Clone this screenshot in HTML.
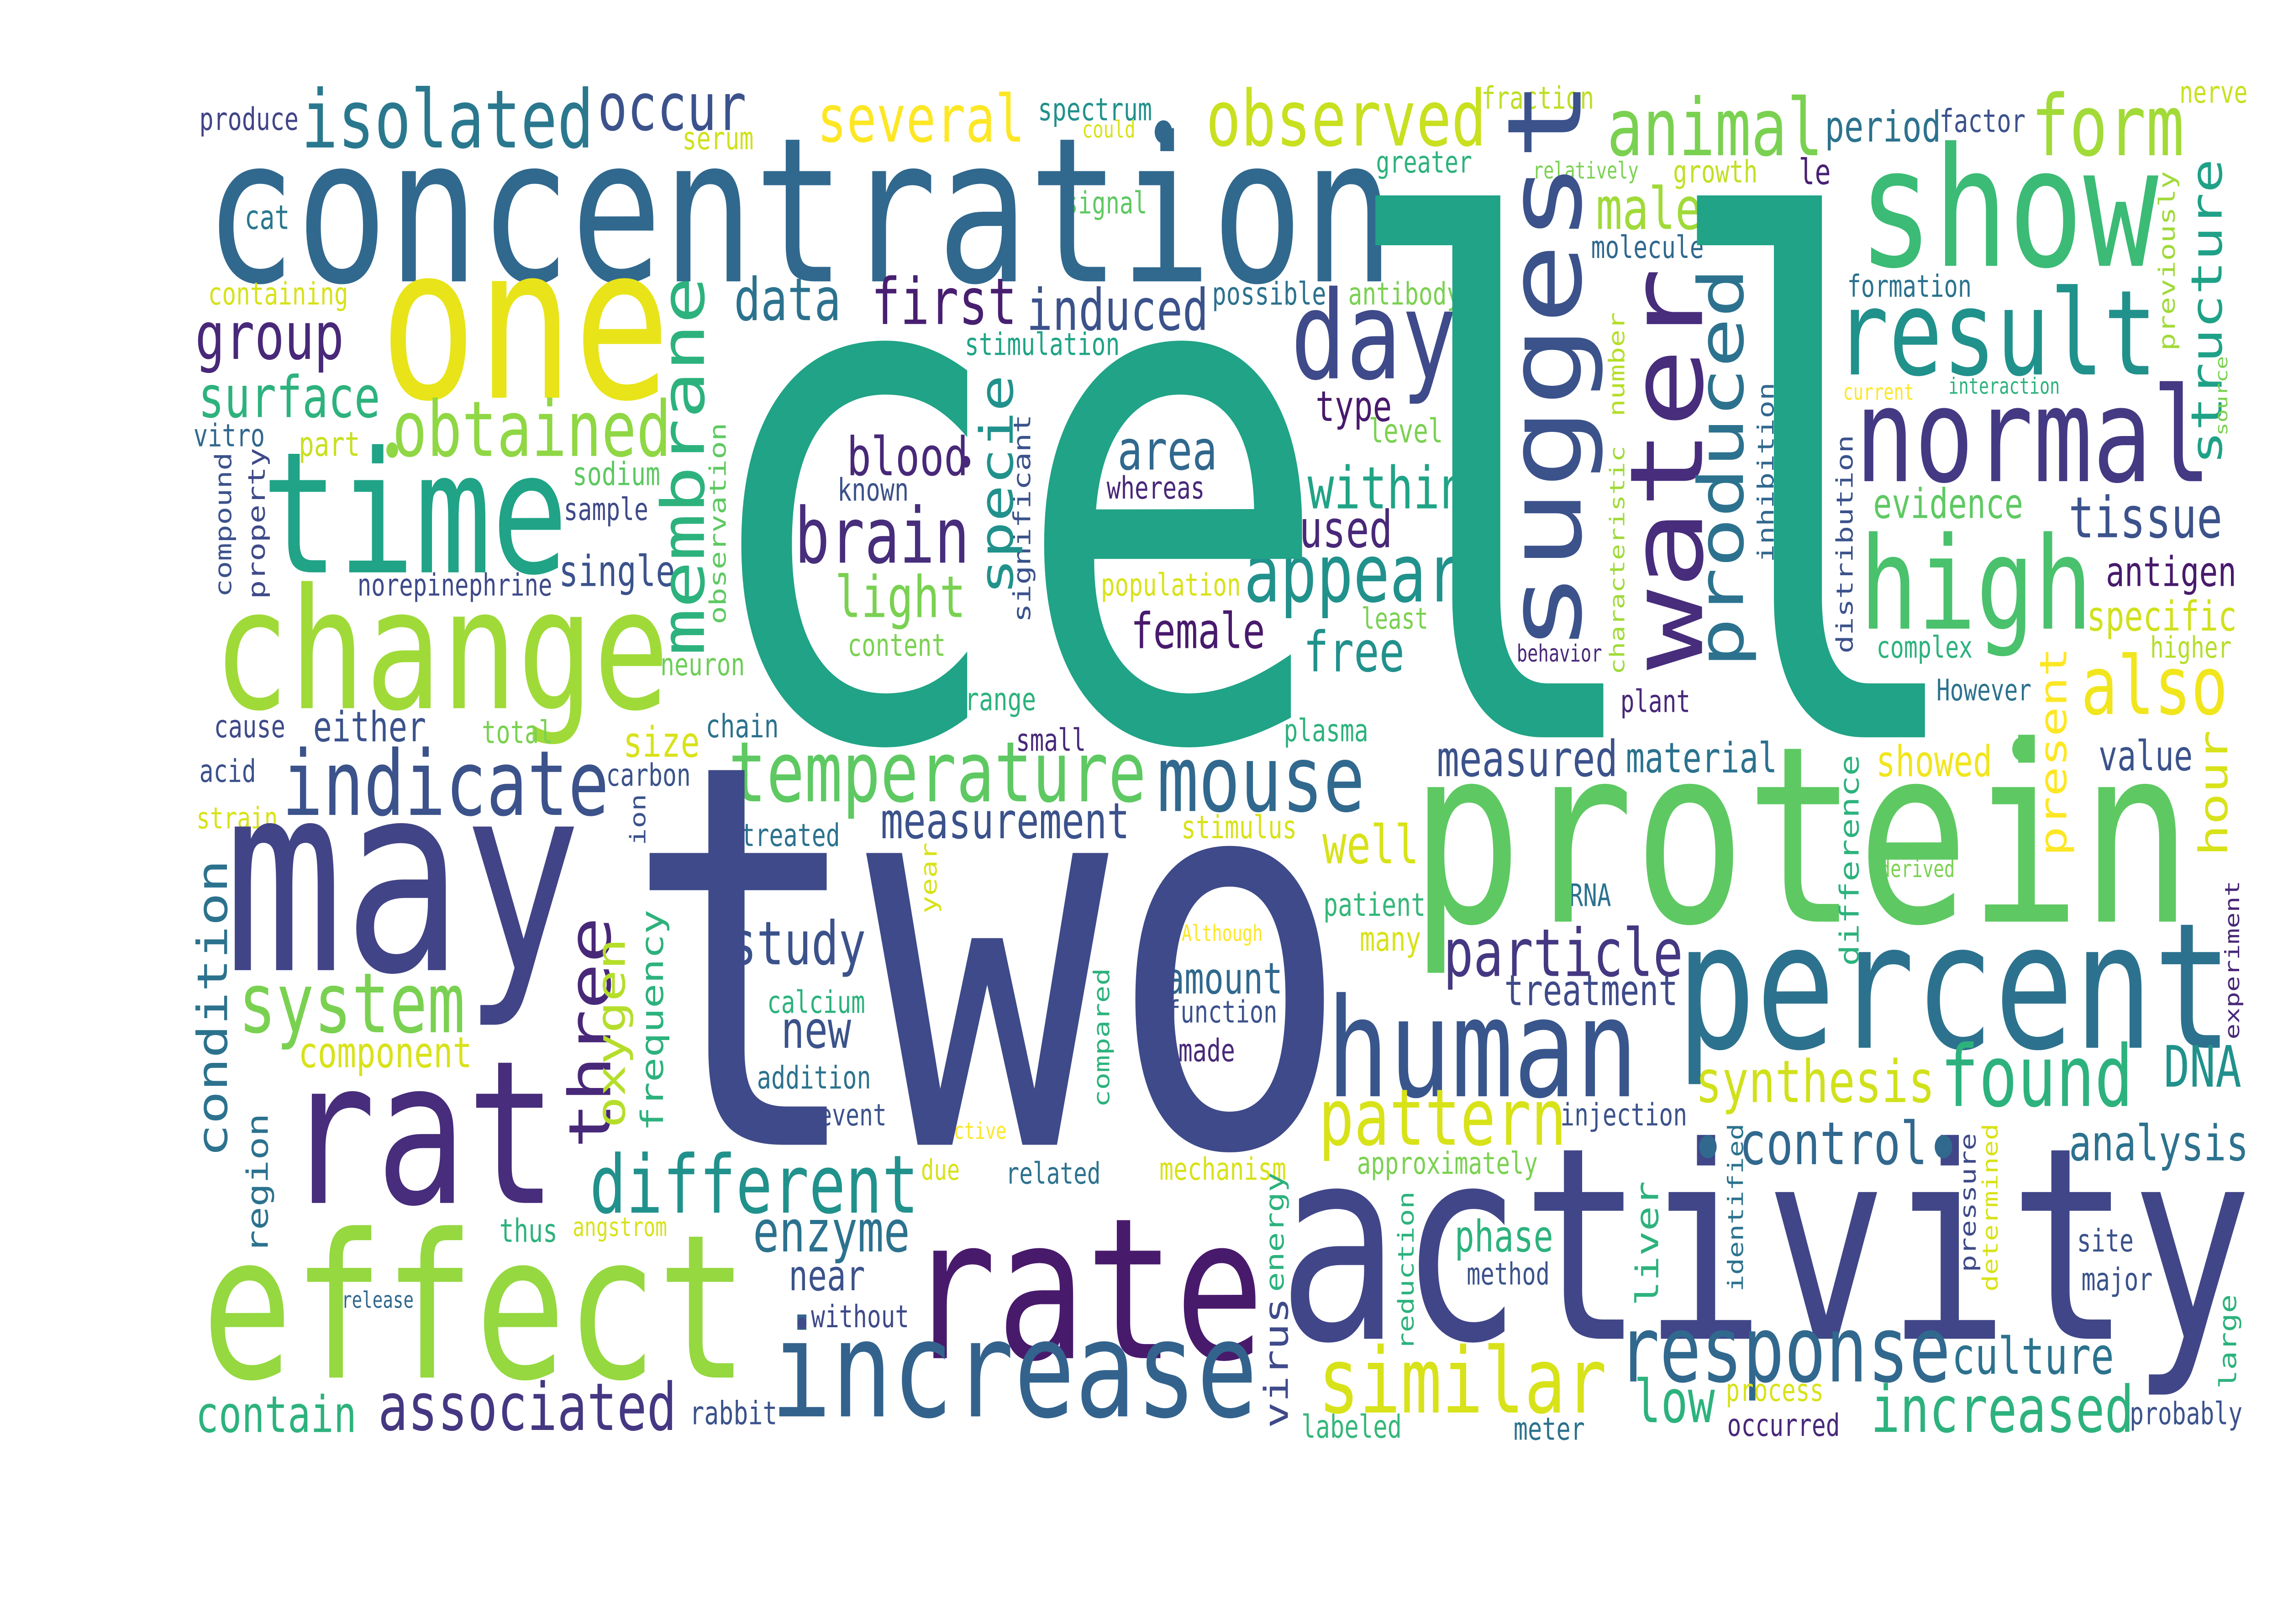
<!DOCTYPE html>
<html><head><meta charset="utf-8"><meta name="viewport" content="width=6630, initial-scale=1">
<style>
html,body{margin:0;padding:0;background:#fff;width:100%;height:100%;overflow:hidden;}
svg{display:block;position:fixed;left:0;top:0;width:100vw;height:100vh;overflow:hidden;}
text{font-family:"DejaVu Sans Mono","Liberation Mono",monospace;}
</style></head>
<body>
<svg id="cloud" viewBox="0 0 1560 837" preserveAspectRatio="none" xmlns="http://www.w3.org/2000/svg">
<rect x="0" y="0" width="1560" height="837" fill="#fff"/>
</svg>
<script>
// Horizontal words: [text, inkLeft, inkRight, baseline, color, fontSizeOverride]
const hWords = [
["produce",137,203,67,"#414487"],["isolated",208,403,76,"#2a788e"],["occur",410,508,67,"#3b528b"],
["serum",467,514,77,"#d0e11c"],["several",560,698,73,"#fde725"],["spectrum",710,786,62,"#21918c"],
["could",740,775,71,"#d8e219"],["observed",826,1013,75,"#c8e020"],["fraction",1013,1088,56,"#bddf26"],
["greater",941,1005,89,"#2db27d"],["signal",728,783,110,"#5ec962"],["relatively",1048,1119,92,"#7ad151"],
["growth",1144,1200,94,"#c2df23"],["le",1230,1250,95,"#482173"],["animal",1100,1243,80,"#7ad151"],
["period",1248,1325,73,"#2c728e"],["factor",1326,1383,68,"#3b528b"],["form",1390,1490,80,"#a2da37"],
["nerve",1490,1535,53,"#c8e020"],["concentration",145,945,145,"#31688e"],["cat",168,197,118,"#2a788e"],
["containing",143,237,157,"#d8e219"],["one",265,440,205,"#e8e419",110],["group",135,233,185,"#482878"],
["data",503,573,165,"#2c728e"],["first",597,693,167,"#481f70"],["induced",703,824,170,"#3b528b"],
["possible",829,905,157,"#2c728e"],["antibody",922,997,157,"#7ad151"],["stimulation",660,764,183,"#20a386"],
["day",885,992,195,"#3e4a89"],["surface",137,258,215,"#2db27d"],["obtained",270,456,235,"#8fd744"],
["vitro",133,180,230,"#31688e"],["part",205,245,235,"#c8e020"],["type",900,950,217,"#481a6c"],
["level",936,985,228,"#7ad151"],["area",765,830,242,"#31688e"],["blood",580,660,245,"#482878"],
["whereas",757,822,257,"#482878"],["known",573,620,258,"#3b528b"],["sodium",392,450,250,"#5ec962"],
["within",895,1000,262,"#20a386"],["sample",386,442,268,"#3e4a89"],["used",889,950,282,"#482878"],
["brain",545,660,290,"#472d7b"],["time",183,383,295,"#20a386"],["single",383,460,302,"#3b528b"],
["norepinephrine",245,376,307,"#3e4a89"],["population",753,847,307,"#d8e219"],["appear",852,997,310,"#21918c"],
["light",572,658,318,"#7ad151"],["least",931,975,324,"#7ad151"],["female",774,863,334,"#481a6c"],
["content",580,645,338,"#7ad151"],["free",892,958,346,"#21918c"],["neuron",452,508,348,"#6ece58"],
["change",150,452,365,"#a0da39"],["range",660,707,366,"#2db27d"],["chain",483,531,380,"#2c728e"],
["cause",147,194,380,"#3e4a89"],["either",215,290,382,"#3b528b"],["total",330,377,383,"#7ad151"],
["plasma",878,934,382,"#2db27d"],["small",695,741,387,"#482878"],["size",427,477,390,"#d8e219"],
["measured",983,1104,400,"#3b528b"],["material",1112,1213,398,"#2c728e"],["showed",1283,1360,400,"#f1e51d"],
["value",1435,1497,397,"#3b528b"],["acid",137,174,403,"#3b528b"],["carbon",415,471,405,"#3b528b"],
["temperature",500,780,413,"#5ec962"],["mouse",793,930,418,"#31688e"],["indicate",195,413,420,"#3b528b"],
["strain",135,189,427,"#d8e219"],["treated",507,573,436,"#2c728e"],["measurement",603,770,432,"#3b528b"],
["stimulus",808,885,432,"#d8e219"],["well",905,968,445,"#d8e219"],["derived",1285,1335,452,"#7ad151"],
["RNA",1073,1100,467,"#2c728e"],["patient",905,973,472,"#35b779"],["protein",970,1490,475,"#5ec962"],
["Although",808,862,485,"#fde725"],["many",930,970,490,"#d8e219"],["study",500,590,497,"#3b528b"],
["may",160,390,500,"#414487"],["particle",988,1148,503,"#453781"],["amount",797,875,512,"#31688e"],
["treatment",1029,1145,518,"#3e4a89"],["calcium",525,590,522,"#2db27d"],["function",798,872,527,"#3b528b"],
["system",165,315,532,"#7ad151"],["new",535,580,540,"#3b528b"],["percent",1150,1520,540,"#2c728e"],
["made",806,843,547,"#482878"],["component",205,321,550,"#d8e219"],["DNA",1480,1530,560,"#21918c"],
["addition",518,594,561,"#2c728e"],["human",910,1115,565,"#39568c"],["synthesis",1160,1320,568,"#d0e11c"],
["found",1328,1455,570,"#2db27d"],["event",560,605,580,"#3b528b"],["injection",1067,1152,580,"#3b528b"],
["active",645,687,587,"#fde725"],["pattern",903,1068,590,"#d8e219"],["two",440,907,590,"#3e4a89",275],
["analysis",1415,1535,598,"#2c728e"],["control",1190,1315,600,"#31688e"],["approximately",928,1050,605,"#7ad151"],
["due",630,655,608,"#d8e219"],["mechanism",793,878,608,"#d8e219"],["related",688,751,610,"#2c728e"],
["rat",200,375,620,"#472d7b"],["different",405,625,625,"#21918c"],["angstrom",392,455,637,"#d8e219"],
["thus",342,380,640,"#2db27d"],["phase",995,1060,645,"#2db27d"],["site",1420,1457,645,"#3b528b"],
["enzyme",516,620,645,"#2c728e"],["method",1003,1058,662,"#3b528b"],["near",540,590,665,"#3b528b"],
["major",1423,1470,665,"#3b528b"],["release",234,282,674,"#31688e"],["without",555,620,684,"#3e4a89"],
["activity",880,1530,690,"#404688"],["rate",625,858,700,"#481a6c"],["culture",1335,1443,708,"#2c728e"],
["effect",143,505,710,"#95d840"],["response",1108,1330,712,"#31688e"],["process",1180,1245,722,"#d8e219"],
["similar",903,1095,728,"#d8e219"],["increase",530,855,730,"#33638d"],["low",1118,1170,733,"#2db27d"],
["probably",1456,1531,734,"#3b528b"],["rabbit",472,530,734,"#3b528b"],["associated",260,460,737,"#453781"],
["increased",1280,1456,738,"#2db27d"],["contain",135,242,738,"#2db27d"],["occurred",1181,1256,740,"#482878"],
["labeled",890,957,741,"#35b779"],["meter",1035,1082,742,"#2c728e"],["show",1274,1470,137,"#3bbb75"],
["result",1257,1470,193,"#21918c"],["formation",1263,1346,153,"#2c728e"],["male",1092,1161,118,"#a0da39"],
["molecule",1088,1163,133,"#31688e"],["current",1260,1307,206,"#fde725"],["interaction",1332,1407,203,"#2db27d"],
["normal",1271,1507,248,"#443983"],["evidence",1281,1381,267,"#5ec962"],["tissue",1415,1517,277,"#3b528b"],
["antigen",1440,1527,302,"#481a6c"],["high",1274,1426,324,"#4ac16d"],["specific",1427,1527,325,"#d0e11c"],
["complex",1283,1347,339,"#2db27d"],["higher",1470,1524,339,"#b5de2b"],["behavior",1037,1094,341,"#482878"],
["However",1324,1387,361,"#2c728e"],["plant",1108,1154,367,"#482878"],["also",1424,1520,368,"#f1e51d"],
["cell",490,1270,380,"#20a386",365]
];
// Vertical words: [text, baselineX, inkBottom, inkTop, color]
const vWords = [
["compound",158,307,234,"#3b528b"],["property",181,308,232,"#3e4a89"],["membrane",481,336,145,"#2db27d"],
["observation",496,321,219,"#5ec962"],["significant",704,320,215,"#3b528b"],["specie",692,305,195,"#21918c"],
["suggest",1080,333,45,"#3b528b"],["water",1163,342,142,"#472d7b"],["produced",1191,342,141,"#2c728e"],
["number",1110,214,162,"#b5de2b"],["characteristic",1110,347,231,"#a0da39"],["inhibition",1212,289,198,"#31688e"],
["distribution",1266,336,225,"#3b528b"],["previously",1486,180,89,"#a0da39"],["structure",1518,238,84,"#1fa187"],
["source",1522,224,184,"#7ad151"],["present",1412,440,335,"#fde725"],["hour",1522,440,378,"#d8e219"],
["experiment",1530,535,455,"#482878"],["difference",1270,497,390,"#2db27d"],["identified",1191,665,580,"#2c728e"],
["pressure",1350,655,585,"#3e4a89"],["determined",1365,665,580,"#d8e219"],["liver",1133,672,610,"#2db27d"],
["reduction",966,695,615,"#2db27d"],["energy",877,665,605,"#2db27d"],["virus",880,735,670,"#3e4a89"],
["large",1528,715,668,"#2db27d"],["compared",758,570,500,"#2db27d"],["year",640,470,435,"#d8e219"],
["three",417,590,475,"#482878"],["oxygen",427,580,485,"#b5de2b"],["frequency",453,582,470,"#2db27d"],
["region",183,645,575,"#2c728e"],["condition",155,595,445,"#2c728e"],["ion",441,435,410,"#3b528b"]
];
// Stray dots: [cx, cy, r, color]
const dots = [[268,232,4,"#8fd744"],[795,68,6,"#31688e"],[660,238,3,"#482878"],[1167,591,6,"#31688e"],
[1328,591,6,"#31688e"],[1381,386,6,"#5ec962"],[548,682,3,"#3e4a89"]];

const NS = "http://www.w3.org/2000/svg";
const svg = document.getElementById("cloud");
function fsFor(n, len){ return len / (0.6*n - 0.1); }

hWords.forEach(w => {
  const fs = w[5] || fsFor(w[0].length, w[2]-w[1]);
  const t = document.createElementNS(NS, "text");
  t.setAttribute("x", (w[1] - 0.05*fs).toFixed(1));
  t.setAttribute("y", w[3]);
  t.setAttribute("font-size", fs.toFixed(1));
  t.setAttribute("fill", w[4]);
  t.textContent = w[0];
  
  
  svg.appendChild(t);
});
vWords.forEach(w => {
  const fs = fsFor(w[0].length, w[2]-w[3]);
  const bx = w[1], by = w[2] + 0.05*fs;
  const t = document.createElementNS(NS, "text");
  t.setAttribute("x", 0);
  t.setAttribute("y", 0);
  t.setAttribute("transform", "translate(" + bx + "," + by.toFixed(1) + ") rotate(-90)");
  t.setAttribute("font-size", fs.toFixed(1));
  t.setAttribute("fill", w[4]);
  t.textContent = w[0];
  
  
  svg.appendChild(t);
});
dots.forEach(d => {
  const c = document.createElementNS(NS, "circle");
  c.setAttribute("cx", d[0]); c.setAttribute("cy", d[1]); c.setAttribute("r", d[2]); c.setAttribute("fill", d[3]);
  
  
  svg.appendChild(c);
});
</script>
</body></html>
